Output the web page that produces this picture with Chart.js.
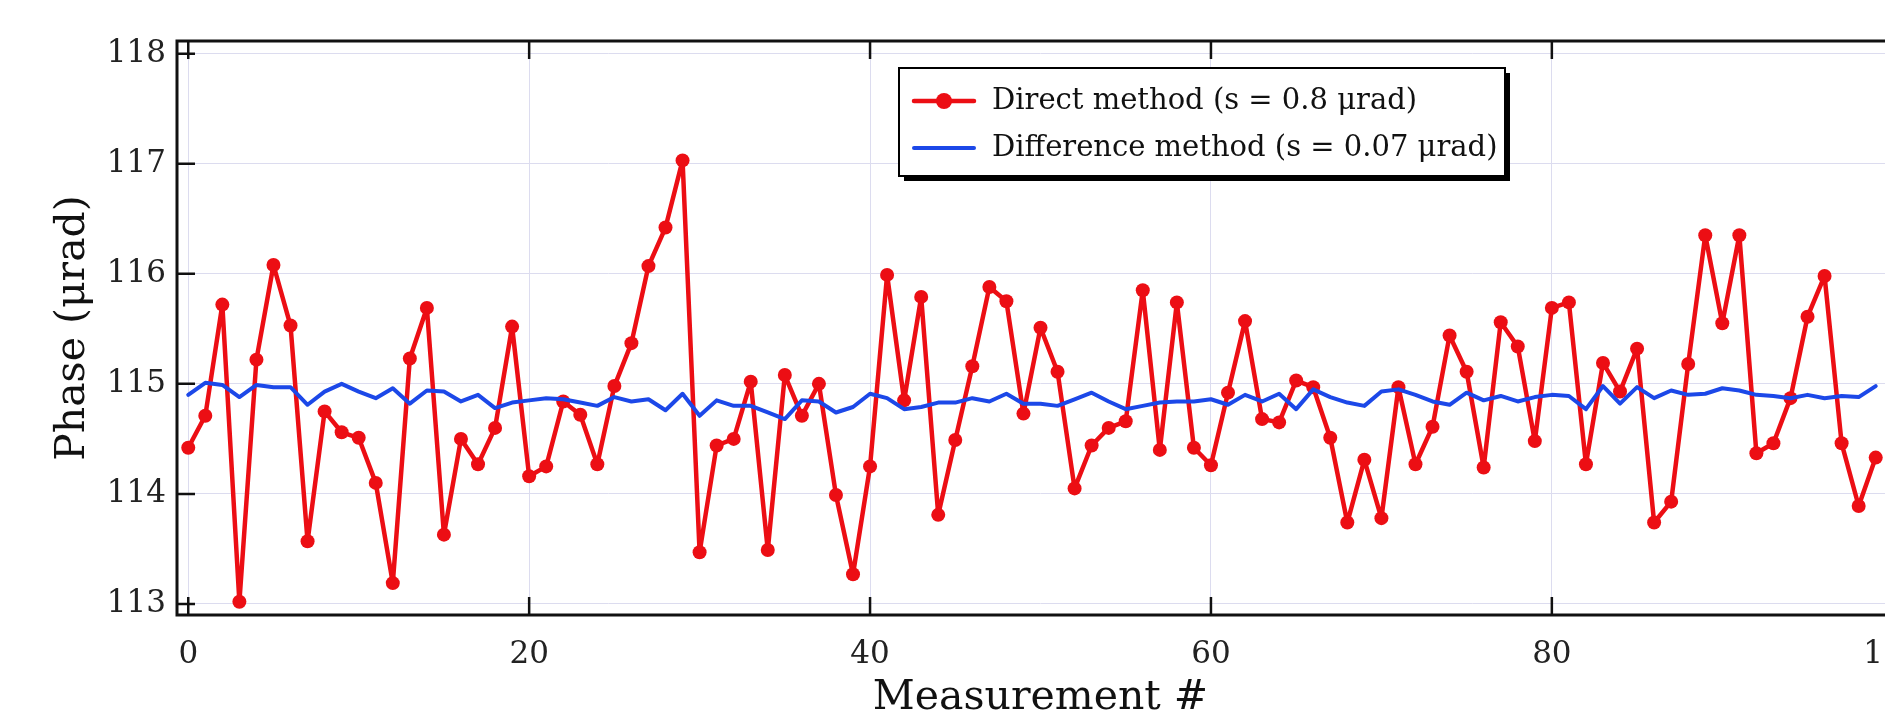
<!DOCTYPE html>
<html>
<head>
<meta charset="utf-8">
<script src="https://cdn.jsdelivr.net/npm/chart.js@4/dist/chart.umd.min.js"></script>
<style>
  html, body { margin: 0; padding: 0; background: #fff; overflow: hidden; width: 1885px; height: 715px; }
  canvas { display: block; }
</style>
</head>
<body>
<canvas id="chart" width="1960" height="715"></canvas>
<script>
// measurement numbers 0..99
const measurement = Array.from({ length: 100 }, (_, i) => i);

const directPhase = [
  114.42, 114.71, 115.72, 113.02, 115.22, 116.08, 115.53, 113.57, 114.75, 114.56,
  114.51, 114.10, 113.19, 115.23, 115.69, 113.63, 114.50, 114.27, 114.60, 115.52,
  114.16, 114.25, 114.84, 114.72, 114.27, 114.98, 115.37, 116.07, 116.42, 117.03,
  113.47, 114.44, 114.50, 115.02, 113.49, 115.08, 114.71, 115.00, 113.99, 113.27,
  114.25, 115.99, 114.85, 115.79, 113.81, 114.49, 115.16, 115.88, 115.75, 114.73,
  115.51, 115.11, 114.05, 114.44, 114.60, 114.66, 115.85, 114.40, 115.74, 114.42,
  114.26, 114.92, 115.57, 114.68, 114.65, 115.03, 114.97, 114.51, 113.74, 114.31,
  113.78, 114.97, 114.27, 114.61, 115.44, 115.11, 114.24, 115.56, 115.34, 114.48,
  115.69, 115.74, 114.27, 115.19, 114.93, 115.32, 113.74, 113.93, 115.18, 116.35,
  115.55, 116.35, 114.37, 114.46, 114.87, 115.61, 115.98, 114.46, 113.89, 114.33
];

const differencePhase = [
  114.90, 115.01, 114.99, 114.88, 114.99, 114.97, 114.97, 114.81, 114.93, 115.00,
  114.93, 114.87, 114.96, 114.82, 114.94, 114.93, 114.84, 114.90, 114.78, 114.83,
  114.85, 114.87, 114.86, 114.83, 114.80, 114.88, 114.84, 114.86, 114.76, 114.91,
  114.71, 114.85, 114.80, 114.80, 114.74, 114.68, 114.85, 114.84, 114.74, 114.79,
  114.91, 114.87, 114.77, 114.79, 114.83, 114.83, 114.87, 114.84, 114.91, 114.82,
  114.82, 114.80, 114.86, 114.92, 114.84, 114.77, 114.80, 114.83, 114.84, 114.84,
  114.86, 114.81, 114.90, 114.84, 114.91, 114.77, 114.95, 114.88, 114.83, 114.80,
  114.93, 114.95, 114.90, 114.84, 114.81, 114.92, 114.85, 114.89, 114.84, 114.88,
  114.90, 114.89, 114.77, 114.98, 114.82, 114.97, 114.87, 114.94, 114.90, 114.91,
  114.96, 114.94, 114.90, 114.89, 114.87, 114.90, 114.87, 114.89, 114.88, 114.98
];

const xTicks = [0, 20, 40, 60, 80, 100];
const yTicks = [113, 114, 115, 116, 117, 118];

const serif = "'DejaVu Serif', 'Liberation Serif', serif";

// inner tick marks and the black frame
const framePlugin = {
  id: "frame",
  afterDraw(chart) {
    const { ctx, chartArea: a, scales } = chart;
    ctx.save();
    ctx.strokeStyle = "#111";
    ctx.lineWidth = 2.5;
    ctx.beginPath();
    yTicks.forEach((v) => {
      const y = scales.y.getPixelForValue(v);
      ctx.moveTo(a.left, y); ctx.lineTo(a.left + 18, y);
      ctx.moveTo(a.right, y); ctx.lineTo(a.right - 18, y);
    });
    xTicks.forEach((v) => {
      const x = scales.x.getPixelForValue(v);
      ctx.moveTo(x, a.bottom); ctx.lineTo(x, a.bottom - 18);
      ctx.moveTo(x, a.top); ctx.lineTo(x, a.top + 18);
    });
    ctx.stroke();
    ctx.lineWidth = 3;
    ctx.strokeRect(a.left, a.top, a.right - a.left, a.bottom - a.top);
    ctx.restore();
  }
};

// boxed legend with a shadow, inside the plot
const boxLegend = {
  id: "boxLegend",
  afterDraw(chart) {
    const { ctx } = chart;
    const bx = 899, by = 68, bw = 606, bh = 108;
    ctx.save();
    ctx.fillStyle = "#000";
    ctx.fillRect(bx + 5, by + 5, bw, bh);
    ctx.fillStyle = "#fff";
    ctx.fillRect(bx, by, bw, bh);
    ctx.strokeStyle = "#000";
    ctx.lineWidth = 2;
    ctx.strokeRect(bx, by, bw, bh);

    ctx.font = "29px " + serif;
    ctx.textBaseline = "middle";
    ctx.textAlign = "left";
    ctx.lineCap = "round";
    const rows = [101, 148];
    chart.data.datasets.forEach((ds, i) => {
      const y = rows[i];
      ctx.strokeStyle = ds.borderColor;
      ctx.lineWidth = ds.borderWidth;
      ctx.beginPath();
      ctx.moveTo(914, y);
      ctx.lineTo(974, y);
      ctx.stroke();
      if (ds.pointRadius > 0) {
        ctx.fillStyle = ds.pointBackgroundColor;
        ctx.beginPath();
        ctx.arc(944, y, ds.pointRadius + 1, 0, Math.PI * 2);
        ctx.fill();
      }
      ctx.fillStyle = "#111";
      ctx.fillText(ds.label, 992, y);
    });
    ctx.restore();
  }
};

const config = {
  type: "line",
  data: {
    labels: measurement,
    datasets: [
      {
        label: "Direct method (s = 0.8 μrad)",
        data: directPhase,
        borderColor: "rgb(236, 14, 20)",
        backgroundColor: "rgb(236, 14, 20)",
        pointBackgroundColor: "rgb(236, 14, 20)",
        pointBorderWidth: 0,
        pointRadius: 7,
        borderWidth: 4.5,
        borderJoinStyle: "round",
        borderCapStyle: "round",
        tension: 0,
        order: 1
      },
      {
        label: "Difference method (s = 0.07 μrad)",
        data: differencePhase,
        borderColor: "rgb(28, 72, 232)",
        backgroundColor: "rgb(28, 72, 232)",
        pointRadius: 0,
        borderWidth: 4,
        borderJoinStyle: "round",
        borderCapStyle: "round",
        tension: 0,
        order: 0
      }
    ]
  },
  options: {
    responsive: false,
    animation: false,
    devicePixelRatio: 1,
    layout: { padding: { left: 0, top: 41, right: 56, bottom: 0 } },
    plugins: {
      legend: { display: false },
      tooltip: { enabled: false }
    },
    scales: {
      x: {
        type: "linear",
        min: -0.66,
        max: 100.66,
        afterBuildTicks: (scale) => { scale.ticks = xTicks.map((v) => ({ value: v })); },
        afterFit: (scale) => { scale.height = 100; },
        grid: { color: "#dcdcef", lineWidth: 1, drawTicks: false },
        border: { display: false },
        ticks: {
          padding: 21,
          maxRotation: 0,
          color: "#222",
          font: { family: serif, size: 31 }
        },
        title: {
          display: true,
          text: "Measurement #",
          color: "#111",
          padding: { top: 0, bottom: -8 },
          font: { family: serif, size: 41 }
        }
      },
      y: {
        min: 112.9,
        max: 118.115,
        afterBuildTicks: (scale) => { scale.ticks = yTicks.map((v) => ({ value: v })); },
        afterFit: (scale) => { scale.width = 177; },
        grid: { color: "#dcdcef", lineWidth: 1, drawTicks: false },
        border: { display: false },
        ticks: {
          padding: 11,
          color: "#222",
          font: { family: serif, size: 31 }
        },
        title: {
          display: true,
          text: "Phase (μrad)",
          color: "#111",
          padding: { top: 49, bottom: 0 },
          font: { family: serif, size: 41 }
        }
      }
    }
  },
  plugins: [framePlugin, boxLegend]
};

new Chart(document.getElementById("chart"), config);
</script>
</body>
</html>
